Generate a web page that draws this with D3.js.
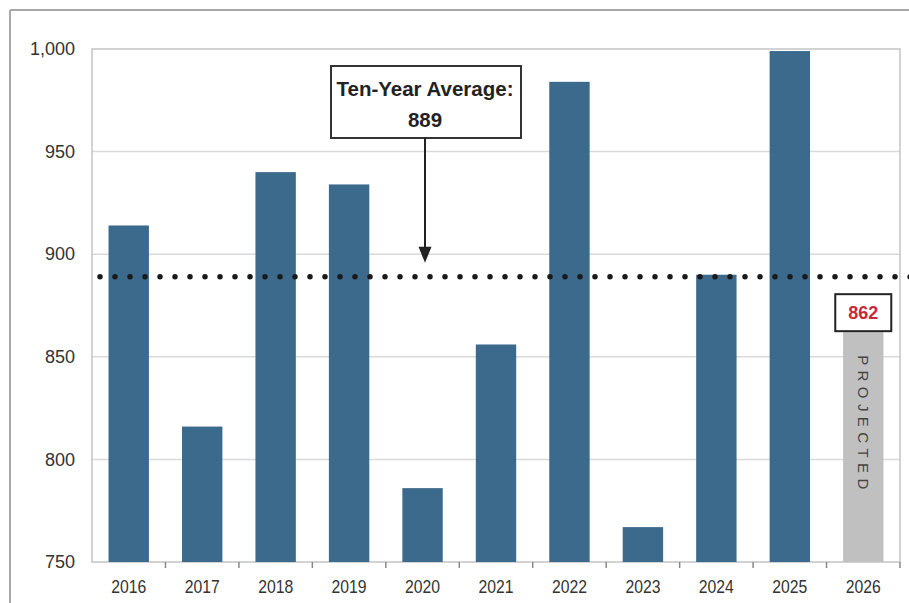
<!DOCTYPE html>
<html>
<head>
<meta charset="utf-8">
<script src="https://cdn.jsdelivr.net/npm/d3@7"></script>
<style>
  html, body { margin: 0; padding: 0; background: #fff; }
  svg { display: block; }
</style>
</head>
<body>
<svg id="chart" width="909" height="603"></svg>
<script>
// Annual totals, 2016–2025 actual, 2026 projected
const years = ["2016", "2017", "2018", "2019", "2020", "2021", "2022", "2023", "2024", "2025", "2026"];
const actualValues = [914, 816, 940, 934, 786, 856, 984, 767, 890, 999];
const projectedYear = "2026";
const projectedValue = 862;
const averageValue = 889;
const yTicks = [750, 800, 850, 900, 950, 1000];

const svg = d3.select("#chart");
const W = 909, H = 603;
const plot = { left: 92, right: 900, top: 49, bottom: 562 };

// Outer frame (top and left edges visible)
svg.append("line").attr("x1", 10).attr("x2", W).attr("y1", 10).attr("y2", 10)
  .attr("stroke", "#a8a8a8").attr("stroke-width", 2);
svg.append("line").attr("x1", 10).attr("x2", 10).attr("y1", 10).attr("y2", H)
  .attr("stroke", "#a8a8a8").attr("stroke-width", 2);

const x = d3.scaleBand().domain(years).range([plot.left, plot.right])
  .paddingInner(0.45).paddingOuter(0.225);
const y = d3.scaleLinear().domain([750, 1000]).range([plot.bottom, plot.top]);

// Horizontal gridlines
svg.append("g")
  .selectAll("line")
  .data(yTicks.filter(t => t > 750 && t < 1000))
  .join("line")
  .attr("x1", plot.left).attr("x2", plot.right)
  .attr("y1", d => y(d)).attr("y2", d => y(d))
  .attr("stroke", "#d9d9d9").attr("stroke-width", 1.5);

// Plot border
svg.append("rect")
  .attr("x", plot.left).attr("y", plot.top)
  .attr("width", plot.right - plot.left).attr("height", plot.bottom - plot.top)
  .attr("fill", "none").attr("stroke", "#c4c4c4").attr("stroke-width", 1.5);

// Y axis labels
const yAxis = svg.append("g")
  .attr("transform", `translate(${plot.left},0)`)
  .call(d3.axisLeft(y).tickValues(yTicks).tickFormat(d3.format(",")).tickSize(0).tickPadding(17));
yAxis.select(".domain").remove();
yAxis.selectAll("text")
  .attr("font-family", "'Liberation Sans', Arial, sans-serif")
  .attr("font-size", 18).attr("fill", "#333");

// X axis labels (condensed)
const xAxis = svg.append("g")
  .attr("transform", `translate(0,${plot.bottom})`)
  .call(d3.axisBottom(x).tickSize(0).tickPadding(18));
xAxis.select(".domain").remove();
xAxis.selectAll("text")
  .attr("font-family", "'Liberation Sans', Arial, sans-serif")
  .attr("font-size", 19).attr("fill", "#333")
  .attr("textLength", 35).attr("lengthAdjust", "spacingAndGlyphs");

// Category separator ticks below the baseline
const step = x.step();
const boundaries = years.map(d => x(d) + x.bandwidth() + step * x.paddingInner() / 2);
svg.append("g")
  .selectAll("line")
  .data(boundaries)
  .join("line")
  .attr("x1", d => d).attr("x2", d => d)
  .attr("y1", plot.bottom).attr("y2", plot.bottom + 6)
  .attr("stroke", "#888").attr("stroke-width", 1.5);

// Actual bars
svg.append("g")
  .selectAll("rect")
  .data(actualValues.map((v, i) => ({ year: years[i], value: v })))
  .join("rect")
  .attr("x", d => x(d.year))
  .attr("y", d => y(d.value))
  .attr("width", x.bandwidth())
  .attr("height", d => y(750) - y(d.value))
  .attr("fill", "#3c6a8d");

// Projected bar
svg.append("rect")
  .attr("x", x(projectedYear))
  .attr("y", y(projectedValue))
  .attr("width", x.bandwidth())
  .attr("height", y(750) - y(projectedValue))
  .attr("fill", "#c0c0c0");

const pcx = x(projectedYear) + x.bandwidth() / 2;
svg.append("text")
  .attr("transform", `translate(${pcx - 5},${y(projectedValue) + 23}) rotate(90)`)
  .attr("font-family", "'Liberation Sans', Arial, sans-serif")
  .attr("font-size", 15).attr("letter-spacing", 5.4)
  .attr("fill", "#444")
  .text("PROJECTED");

// Projected value label box
svg.append("rect")
  .attr("x", pcx - 28).attr("y", y(projectedValue) - 38)
  .attr("width", 56).attr("height", 37)
  .attr("fill", "#fff").attr("stroke", "#222").attr("stroke-width", 2);
svg.append("text")
  .attr("x", pcx).attr("y", y(projectedValue) - 13)
  .attr("text-anchor", "middle")
  .attr("font-family", "'Liberation Sans', Arial, sans-serif")
  .attr("font-weight", "bold").attr("font-size", 18)
  .attr("fill", "#c8283a")
  .text(d3.format(",")(projectedValue));

// Ten-year average dotted line
svg.append("line")
  .attr("x1", 100).attr("x2", W + 5)
  .attr("y1", y(averageValue)).attr("y2", y(averageValue))
  .attr("stroke", "#1a1a1a").attr("stroke-width", 5.5)
  .attr("stroke-linecap", "round").attr("stroke-dasharray", "0 15");

// Average callout
const calloutX = 425;
svg.append("rect")
  .attr("x", 331).attr("y", 66).attr("width", 190).attr("height", 72)
  .attr("fill", "#fff").attr("stroke", "#333").attr("stroke-width", 2);
svg.append("text")
  .attr("x", calloutX).attr("y", 96)
  .attr("text-anchor", "middle")
  .attr("font-family", "'Liberation Sans', Arial, sans-serif")
  .attr("font-weight", "bold").attr("font-size", 20.5).attr("fill", "#222")
  .text("Ten-Year Average:");
svg.append("text")
  .attr("x", calloutX).attr("y", 127)
  .attr("text-anchor", "middle")
  .attr("font-family", "'Liberation Sans', Arial, sans-serif")
  .attr("font-weight", "bold").attr("font-size", 20.5).attr("fill", "#222")
  .text(averageValue);

// Arrow from callout to the average line
const tipY = y(averageValue) - 14;
svg.append("line")
  .attr("x1", calloutX).attr("x2", calloutX)
  .attr("y1", 138).attr("y2", tipY - 12)
  .attr("stroke", "#222").attr("stroke-width", 2);
svg.append("path")
  .attr("d", `M${calloutX - 6.5},${tipY - 16} L${calloutX + 6.5},${tipY - 16} L${calloutX},${tipY} Z`)
  .attr("fill", "#222");
</script>
</body>
</html>
